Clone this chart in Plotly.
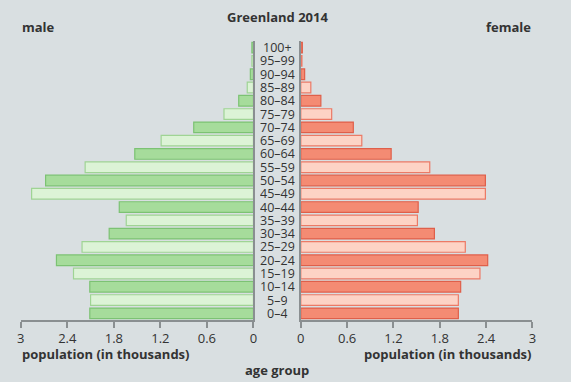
import plotly.graph_objects as go

age_groups = ["0–4", "5–9", "10–14", "15–19", "20–24", "25–29", "30–34", "35–39",
              "40–44", "45–49", "50–54", "55–59", "60–64", "65–69", "70–74", "75–79",
              "80–84", "85–89", "90–94", "95–99", "100+"]
male = [2.11, 2.10, 2.11, 2.32, 2.54, 2.21, 1.86, 1.64, 1.73, 2.86, 2.68, 2.17,
        1.53, 1.19, 0.77, 0.38, 0.19, 0.08, 0.04, 0.02, 0.02]
female = [2.04, 2.04, 2.07, 2.32, 2.42, 2.13, 1.73, 1.51, 1.52, 2.39, 2.39, 1.67,
          1.17, 0.79, 0.68, 0.40, 0.26, 0.13, 0.05, 0.015, 0.02]
tick_vals = [0, 0.6, 1.2, 1.8, 2.4, 3]
tick_text = ["0", "0.6", "1.2", "1.8", "2.4", "3"]

BG = "#d9dfe1"
TXT = "#333333"
AXC = "#8a8f91"
FONT = "Open Sans"

m_fill = ["#a6dc9b" if i % 2 == 0 else "#dcf3d6" for i in range(len(age_groups))]
m_line = ["#7cc273" if i % 2 == 0 else "#9fd494" for i in range(len(age_groups))]
f_fill = ["#f48b73" if i % 2 == 0 else "#fdd3c5" for i in range(len(age_groups))]
f_line = ["#df5f4a" if i % 2 == 0 else "#ec7a66" for i in range(len(age_groups))]

fig = go.Figure()
fig.add_trace(go.Bar(x=male, y=age_groups, orientation="h", xaxis="x", yaxis="y",
                     marker=dict(color=m_fill, line=dict(color=m_line, width=1.2)),
                     showlegend=False))
fig.add_trace(go.Bar(x=female, y=age_groups, orientation="h", xaxis="x2", yaxis="y2",
                     marker=dict(color=f_fill, line=dict(color=f_line, width=1.2)),
                     showlegend=False))

ydom = [1 - 320 / 382, 1 - 41 / 382]
xcommon = dict(tickvals=tick_vals, ticktext=tick_text, ticks="outside", ticklen=6,
               tickcolor=AXC, tickwidth=1.5, showline=True, linecolor=AXC, linewidth=1.5,
               showgrid=False, zeroline=False, fixedrange=True,
               tickfont=dict(family=FONT, size=13, color=TXT))
fig.update_layout(
    width=571, height=382,
    margin=dict(l=0, r=0, t=0, b=0),
    paper_bgcolor=BG, plot_bgcolor=BG,
    bargap=0.2,
    font=dict(family=FONT, color=TXT),
    xaxis=dict(domain=[17 / 571, 253 / 571], range=[3, 0], anchor="y", **xcommon),
    xaxis2=dict(domain=[301 / 571, 536 / 571], range=[0, 3], anchor="y2", **xcommon),
    yaxis=dict(domain=ydom, anchor="x", side="right", type="category",
               categoryorder="array", categoryarray=age_groups, range=[-0.5, 20.5],
               showline=True, linecolor=AXC, linewidth=1.5, showticklabels=False,
               ticks="", showgrid=False, zeroline=False, fixedrange=True),
    yaxis2=dict(domain=ydom, anchor="x2", side="left", matches="y", type="category",
                categoryorder="array", categoryarray=age_groups,
                showline=True, linecolor=AXC, linewidth=1.5, showticklabels=False,
                ticks="", showgrid=False, zeroline=False, fixedrange=True),
)

for g in age_groups:
    fig.add_annotation(x=277 / 571, xref="paper", y=g, yref="y", text=g, showarrow=False,
                       xanchor="center", yanchor="middle", height=13,
                       font=dict(family=FONT, size=12.5, color=TXT))

def label(text, x, y, xanchor, size=13):
    fig.add_annotation(x=x / 571, y=1 - y / 382, xref="paper", yref="paper",
                       text="<b>" + text + "</b>", showarrow=False,
                       xanchor=xanchor, yanchor="middle",
                       font=dict(family=FONT, size=size, color=TXT))

label("Greenland 2014", 277, 17, "center")
label("male", 16, 27, "left")
label("female", 537, 27, "right")
label("population (in thousands)", 16, 354, "left")
label("population (in thousands)", 537, 354, "right")
label("age group", 277, 370, "center")

fig.write_html("out.html", config={"displayModeBar": False},
               post_script="document.body.style.margin='0px';document.body.style.background='%s';" % BG)
